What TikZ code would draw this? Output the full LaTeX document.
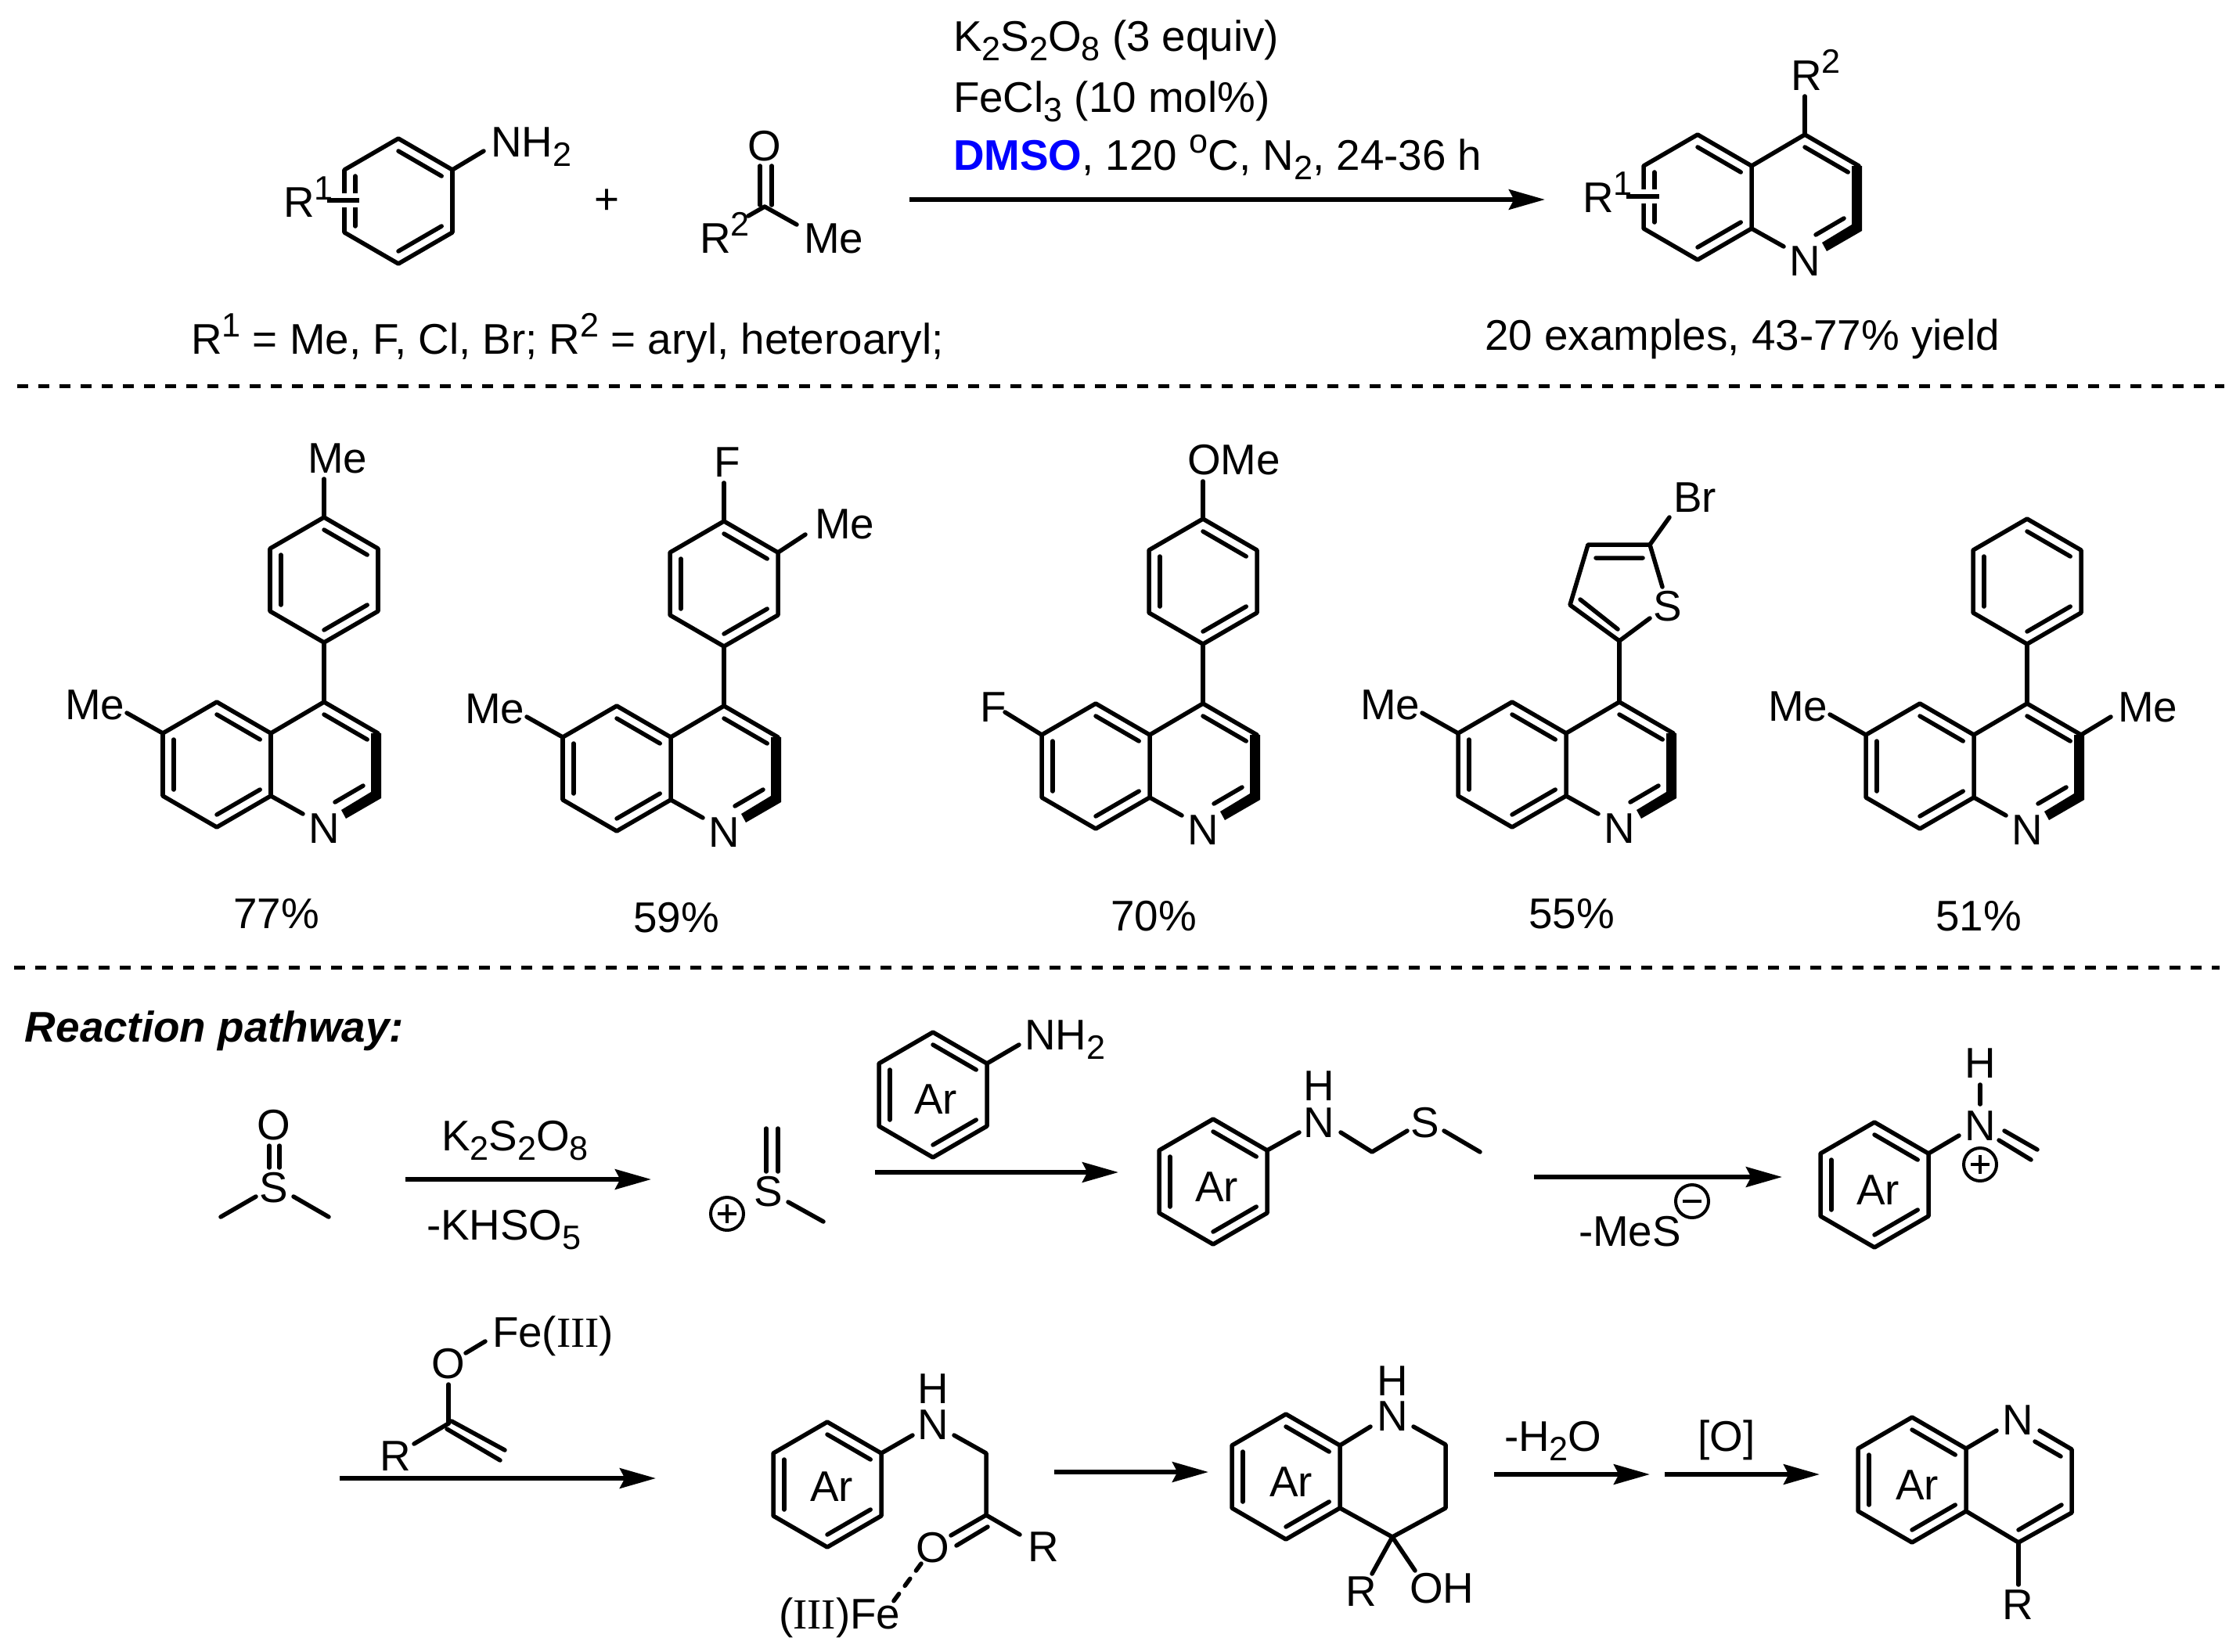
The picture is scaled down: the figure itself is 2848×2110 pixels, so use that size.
\documentclass[tikz,border=0pt]{standalone}
\usepackage{fontspec}
\setmainfont{Liberation Sans}
\newfontfamily\tms{Liberation Serif}
\usetikzlibrary{calc,arrows.meta}
\definecolor{dmso}{RGB}{0,0,255}
\newcommand\Sb[1]{\raisebox{-3pt}{\fontsize{10.8}{12}\selectfont #1}}
\newcommand\Sp[1]{\raisebox{5.4pt}{\fontsize{10.8}{12}\selectfont #1}}
\tikzset{
  x=0.25pt,y=-0.25pt,
  bond/.style={line width=1.38pt,line cap=round,line join=round},
  halo/.style={white,line width=4.4pt,line cap=butt},
  rxn/.style={line width=1.5pt,-{Stealth[length=11.5pt,width=6.4pt,inset=1.6pt]}},
  sep/.style={line width=1.25pt,dash pattern=on 3.4pt off 3.35pt},
  txt/.style={inner sep=0pt,outer sep=0pt,anchor=base west,font=\fontsize{13.7}{16}\selectfont},
  ctxt/.style={txt,anchor=base},
  chg/.style={circle,draw,line width=1pt,inner sep=0pt,minimum size=10.5pt},
}
% text: name, x, baseline y, text
\newcommand\T[4]{\node[txt] (#1) at (#2,#3) {#4};}
\newcommand\C[4]{\node[ctxt] (#1) at (#2,#3) {#4};}
% six-membered ring, pointy top
\newcommand\Hex[3]{\begin{scope}[shift={(#2,#3)}]
  \coordinate (#1c) at (0,0);\coordinate (#1t) at (0,-80);\coordinate (#1tr) at (69,-40);
  \coordinate (#1br) at (69,40);\coordinate (#1b) at (0,80);\coordinate (#1bl) at (-69,40);
  \coordinate (#1tl) at (-69,-40);
  \draw[bond] (#1t)--(#1tr)--(#1br)--(#1b)--(#1bl)--(#1tl)--cycle;
\end{scope}}
\newcommand\In[3]{\draw[bond] ($(#1)!.2!(#3)$)--($(#2)!.2!(#3)$);}
\newcommand\Kek[1]{\In{#1t}{#1tr}{#1c}\In{#1br}{#1b}{#1c}\In{#1bl}{#1tl}{#1c}}
\newcommand\Benz[3]{\Hex{#1}{#2}{#3}\Kek{#1}}
% quinoline with bold C3-C2-N
\newcommand\Quin[3]{\Benz{#1L}{#2-137}{#3}
 \begin{scope}[shift={(#2,#3)}]
  \coordinate (#1c) at (0,0);\coordinate (#1Cf) at (0,-80);\coordinate (#1Ct) at (69,-40);
  \draw[bond] (#1Ltr)--(#1Cf)--(#1Ct);
  \In{#1Cf}{#1Ct}{#1c}
  \fill (60,-40)--(73,-40)--(73,43)--(28,69)--(22,58)--(60,35)--cycle;
  \draw[bond] (14,48)--(50,27);
  \draw[bond] (#1Lbr)--(-27,63);
  \C{#1N}{0}{100}{N}
 \end{scope}}
% Me on C6 of an example
\newcommand\MeSix[1]{\coordinate (#1e) at ($(#1Ltl)+(-46,-26)$);
  \draw[bond] (#1Ltl)--(#1e);
  \node[txt] (#1Me) at ($(#1Ltl)+(-125,-18)$) {Me};}
\newcommand\Rxn[4]{\coordinate (#1s) at (#2,#4);\coordinate (#1e) at (#3,#4);\draw[rxn] (#1s)--(#1e);}
\newcommand\Plus[3]{\node[chg] (#1) at (#2,#3) {};
  \draw[line width=1.1pt] ($(#1)+(-12,0)$)--($(#1)+(12,0)$) ($(#1)+(0,-12)$)--($(#1)+(0,12)$);}
\newcommand\Minus[3]{\node[chg] (#1) at (#2,#3) {};
  \draw[line width=1.1pt] ($(#1)+(-12,0)$)--($(#1)+(12,0)$);}
\begin{document}
\begin{tikzpicture}
\useasboundingbox[fill=white] (0,0) rectangle (2848,2110);

% ---------- top scheme
\Benz{an}{509}{257}
\draw[halo] (420,256)--(461,256);
\draw[bond,line cap=butt] (418,256)--(459,256);
\T{anR}{362}{277}{R\Sp{1}}
\coordinate (anNe) at (618,193);
\draw[bond] (antr)--(anNe);
\T{anNH}{627}{200}{NH\Sb{2}}
\C{plus}{775}{273}{+}
\coordinate (acC) at (977,264);
\C{acO}{977}{205}{O}
\draw[bond] (971,212)--(971,262) (986,212)--(986,262);
\draw[bond] (acC)--(956,276) (acC)--(1018,287);
\T{acR}{894}{323}{R\Sp{2}}
\T{acMe}{1027}{323}{Me}
\T{c1}{1218}{65}{K\Sb{2}S\Sb{2}O\Sb{8} (3 equiv)}
\T{c2}{1218}{143}{FeCl\Sb{3} (10 mol\%)}
\T{c3}{1218}{217}{\textcolor{dmso}{\textbf{DMSO}}, 120 \Sp{o}C, N\Sb{2}, 24-36 h}
\Rxn{ra}{1162}{1974}{255}
\Quin{tq}{2306}{252}
\draw[halo] (2080,251)--(2122,251);
\draw[bond,line cap=butt] (2078,251)--(2120,251);
\T{tqR}{2022}{271}{R\Sp{1}}
\coordinate (tqRe) at (2306,123);
\draw[bond] (tqCf)--(tqRe);
\T{tqRt}{2288}{115}{R\Sp{2}}
\T{def}{244}{452}{R\Sp{1} = Me, F, Cl, Br; R\Sp{2} = aryl, heteroaryl;}
\T{ex}{1897}{447}{20 examples, 43-77\% yield}

\coordinate (s1a) at (22,493);\coordinate (s1b) at (2842,493);
\draw[sep] (s1a)--(s1b);
\coordinate (s2a) at (18,1236);\coordinate (s2b) at (2836,1236);
\draw[sep] (s2a)--(s2b);

% ---------- example 1
\Quin{qa}{414}{977}\MeSix{qa}
\Benz{aa}{414}{741}
\draw[bond] (aab)--(qaCf);
\coordinate (aae) at (414,612);\draw[bond] (aat)--(aae);
\T{aaMe}{393}{604}{Me}
\C{ya}{353}{1186}{77\%}
% ---------- example 2
\Quin{qb}{925}{982}\MeSix{qb}
\Benz{ab}{925}{746}
\draw[bond] (abb)--(qbCf);
\coordinate (abe) at (925,617);\draw[bond] (abt)--(abe);
\T{abF}{912}{609}{F}
\coordinate (abm) at (1029,683);\draw[bond] (abtr)--(abm);
\T{abMe}{1041}{688}{Me}
\C{yb}{864}{1191}{59\%}
% ---------- example 3
\Quin{qc}{1537}{979}
\coordinate (qcf) at (1284,910);\draw[bond] (qcLtl)--(qcf);
\T{qcF}{1252}{922}{F}
\Benz{ac}{1537}{743}
\draw[bond] (acb)--(qcCf);
\coordinate (ace) at (1537,615);\draw[bond] (act)--(ace);
\T{acOMe}{1517}{606}{OMe}
\C{yc}{1474}{1189}{70\%}
% ---------- example 4
\Quin{qd}{2069}{977}\MeSix{qd}
\coordinate (thb) at (2069,819);\coordinate (thc) at (2006,773);
\coordinate (thd) at (2029,696);\coordinate (the) at (2108,696);
\draw[bond] (thb)--(qdCf);
\draw[bond] (thb)--(thc)--(thd)--(the)--(2124,750)  (thb)--(2108,790);
\draw[bond] (2039,713)--(2099,713)  (2019,766)--(2067,804);
\C{thS}{2131}{793}{S}
\draw[bond] (the)--(2133,661);
\T{thBr}{2138}{654}{Br}
\C{yd}{2008}{1186}{55\%}
% ---------- example 5
\Quin{qe}{2590}{979}\MeSix{qe}
\Benz{ae}{2590}{743}
\draw[bond] (aeb)--(qeCf);
\draw[bond] (qeCt)--(2697,916);
\T{qeMe2}{2706}{922}{Me}
\C{ye}{2528}{1189}{51\%}

% ---------- pathway, first row
\node[txt,font=\fontsize{13.7}{16}\selectfont\bfseries\itshape] (path) at (32,1331) {Reaction pathway:};
\C{dO}{350}{1456}{O}
\C{dS}{350}{1536}{S}
\draw[bond] (344,1464)--(344,1492) (357,1464)--(357,1492);
\draw[bond] (327,1529)--(282,1555) (375,1529)--(420,1555);
\Rxn{r1}{518}{832}{1507}
\T{r1t}{564}{1470}{K\Sb{2}S\Sb{2}O\Sb{8}}
\T{r1b}{545}{1584}{-KHSO\Sb{5}}
\C{sS}{982}{1541}{S}
\draw[bond] (979,1442)--(979,1497) (994,1442)--(994,1497);
\draw[bond] (1007,1536)--(1052,1561);
\Plus{sP}{929}{1551}
\Benz{ar1}{1192}{1399}
\draw[bond] (ar1tr)--(1302,1335);
\T{ar1N}{1309}{1341}{NH\Sb{2}}
\T{ar1A}{1168}{1423}{Ar}
\Rxn{r2}{1118}{1429}{1498}
% N-CH2-S-Me
\Benz{ar2}{1550}{1510}
\T{ar2A}{1527}{1535}{Ar}
\draw[bond] (ar2tr)--(1660,1447);
\C{ar2N}{1685}{1453}{N}
\C{ar2H}{1685}{1406}{H}
\draw[bond] (1713,1447)--(1753,1472)--(1798,1445);
\C{ar2S}{1821}{1453}{S}
\draw[bond] (1845,1445)--(1891,1472);
\Rxn{r3}{1960}{2277}{1504}
\T{r3t}{2017}{1592}{-MeS}
\Minus{r3m}{2162}{1535}
% iminium
\Benz{ar3}{2395}{1514}
\T{ar3A}{2372}{1539}{Ar}
\draw[bond] (ar3tr)--(2503,1451);
\C{ar3N}{2530}{1457}{N}
\C{ar3H}{2530}{1377}{H}
\draw[bond] (2530,1386)--(2530,1411);
\Plus{ar3P}{2530}{1488}
\draw[bond] (2561,1445)--(2603,1469) (2554,1457)--(2595,1482);

% ---------- pathway, second row
\Rxn{r4}{434}{838}{1889}
\C{eO}{573}{1761}{O}
\draw[bond] (595,1729)--(620,1714);
\T{eFe}{629}{1721}{Fe({\tms III})}
\coordinate (eC) at (573,1819);
\draw[bond] (573,1769)--(eC);
\draw[bond] (577,1816)--(645,1853) (571,1826)--(639,1866);
\draw[bond] (eC)--(529,1845);
\C{eR}{505}{1879}{R}
% intermediate
\Benz{ar4}{1057}{1897}
\T{ar4A}{1035}{1918}{Ar}
\draw[bond] (ar4tr)--(1166,1834);
\C{ar4N}{1192}{1839}{N}
\C{ar4H}{1192}{1793}{H}
\coordinate (kC) at (1260,1936);
\draw[bond] (1219,1834)--(1260,1857)--(kC)--(1303,1961);
\draw[bond] (kC)--(1215,1962) (1262,1951)--(1222,1975);
\C{kO}{1192}{1996}{O}
\T{kR}{1313}{1995}{R}
\draw[bond,dash pattern=on 2.8pt off 3.2pt] (1177,1998)--(1141,2047);
\T{kFe}{995}{2081}{({\tms III})Fe}
\Rxn{r5}{1347}{1544}{1881}
% tetrahydroquinoline
\Benz{ar5}{1643}{1887}
\T{ar5A}{1622}{1912}{Ar}
\draw[bond] (ar5tr)--(1751,1823);
\C{tN}{1779}{1828}{N}
\C{tH}{1779}{1783}{H}
\coordinate (tC) at (1779,1964);
\draw[bond] (1806,1823)--(1847,1846)--(1847,1927)--(tC)--(ar5br);
\draw[bond] (tC)--(1753,2011) (tC)--(1808,2007);
\C{tR}{1739}{2052}{R}
\T{tOH}{1801}{2048}{OH}
\Rxn{r6}{1909}{2108}{1884}
\T{r6t}{1922}{1854}{-H\Sb{2}O}
\Rxn{r7}{2127}{2325}{1884}
\C{r7t}{2206}{1854}{[O]}
% final quinoline
\Benz{ar6}{2443}{1891}
\T{ar6A}{2422}{1916}{Ar}
\draw[bond] (ar6tr)--(2551,1828);
\C{fN}{2578}{1833}{N}
\coordinate (fCa) at (2647,1852);\coordinate (fCb) at (2647,1933);\coordinate (fCc) at (2579,1971);
\draw[bond] (2606,1828)--(fCa)--(fCb)--(fCc)--(ar6br);
\draw[bond] (2600,1842)--(2633,1861) (2634,1923)--(2579,1955);
\draw[bond] (fCc)--(2579,2025);
\C{fR}{2578}{2069}{R}
\end{tikzpicture}
\end{document}
